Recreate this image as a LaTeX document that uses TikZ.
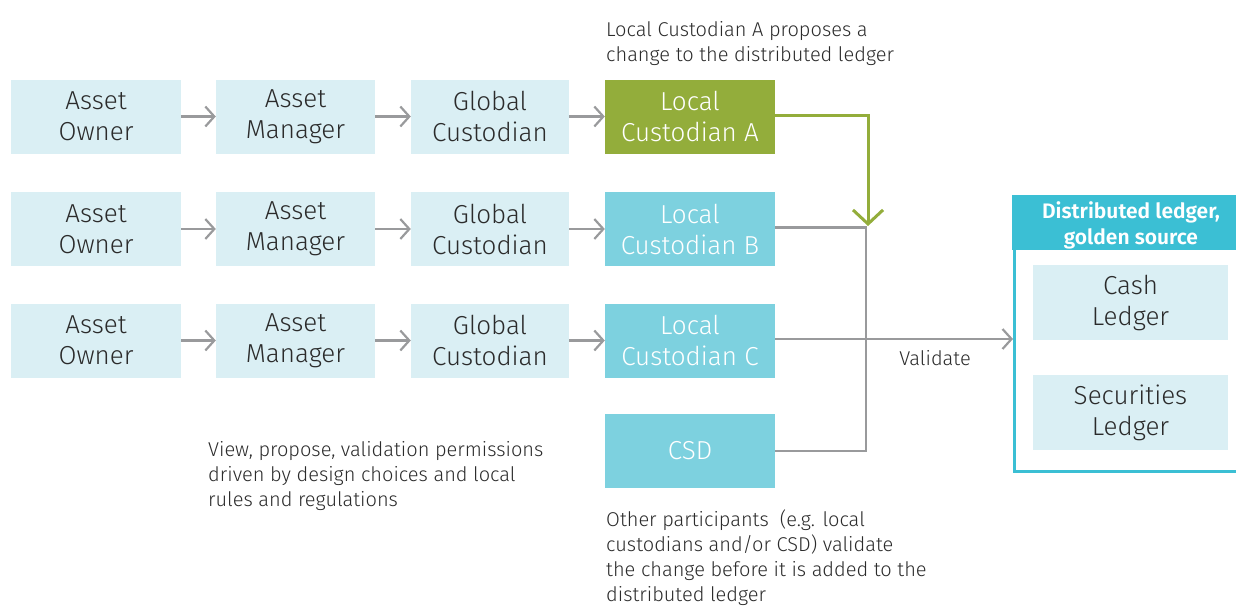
\documentclass[tikz,border=0pt]{standalone}
\usepackage{fontspec}
\setmainfont{Fira Sans Light}[BoldFont={Fira Sans SemiBold}]
\usetikzlibrary{arrows.meta}
\definecolor{lightbox}{HTML}{DAEFF4}
\definecolor{cyanbox}{HTML}{7DD1DF}
\definecolor{greenbox}{HTML}{93AD3B}
\definecolor{hdr}{HTML}{3BBFD4}
\definecolor{lgray}{HTML}{999A9C}
\definecolor{txt}{HTML}{2B2B2B}
\begin{document}
\begin{tikzpicture}[x=1pt,y=-1pt,
  box/.style={minimum width=170pt,minimum height=74pt,inner sep=0pt,align=center,
    font=\fontsize{26}{31}\selectfont,text=txt,fill=lightbox},
  cbox/.style={box,fill=cyanbox,text=white},
  gbox/.style={box,fill=greenbox,text=white},
  lbox/.style={box,minimum width=195pt,minimum height=75pt},
  conn/.style={draw=lgray,line width=2.2pt,-{Straight Barb[length=9pt,width=20pt,line width=2.2pt]}},
  plain/.style={draw=lgray,line width=2.2pt},
  note/.style={align=left,anchor=north west,inner sep=0pt,text=txt,font=\fontsize{20}{25.3}\selectfont},
]
\useasboundingbox (0,0) rectangle (1236,606);
% rows
\foreach \r/\y in {1/116.5,2/229,3/340.5}{
  \node[box] (ao\r) at (96,\y) {Asset\\Owner};
  \node[box,minimum width=159pt] (am\r) at (295.5,\y) {Asset\\Manager};
  \node[box,minimum width=158pt] (gc\r) at (490,\y) {Global\\Custodian};
  \draw[conn] (ao\r) -- (am\r);
  \draw[conn] (am\r) -- (gc\r);
}
\node[gbox] (lca) at (690,116.5) {Local\\Custodian A};
\node[cbox] (lcb) at (690,229) {Local\\Custodian B};
\node[cbox] (lcc) at (690,340.5) {Local\\Custodian C};
\node[cbox] (csd) at (690,451) {CSD};
\draw[conn] (gc1) -- (lca);
\draw[conn] (gc2) -- (lcb);
\draw[conn] (gc3) -- (lcc);

% distributed ledger
\node[draw=hdr,line width=2.5pt,minimum width=230pt,minimum height=274pt,anchor=north west,inner sep=0pt] (dl) at (1013,196) {};
\node[fill=hdr,minimum width=230pt,minimum height=55pt,anchor=north west,inner sep=0pt] (hd) at (1012,195) {};
\node[text=white,align=center,font=\bfseries\fontsize{21}{26}\selectfont,inner sep=0pt] (hdt) at (1131,225) {Distributed ledger,\\golden source};
\node[lbox] (cash) at (1130.5,302.5) {Cash\\Ledger};
\node[lbox] (sec) at (1130.5,412.5) {Securities\\Ledger};

% connectors
\coordinate (j1) at (866,227.5);
\coordinate (j2) at (866,451);
\coordinate (g1) at (868,115);
\draw[plain] (lcb.east |- j1) -- (j1) -- (j2) -- (csd.east |- j2);
\draw[conn] (lcc.east |- 0,339) -- (dl.west |- 0,339);
\node[font=\fontsize{20}{24}\selectfont,text=txt,inner sep=0pt] (val) at (935,358) {Validate};
\draw[draw=greenbox,line width=3pt,-{Straight Barb[length=14pt,width=30pt,line width=3pt]}]
  (lca.east |- g1) -- (g1) -- (868,226);

% notes
\node[note] (n1) at (606,21) {Local Custodian A proposes a\\change to the distributed ledger};
\node[note] (n2) at (208,441) {View, propose, validation permissions\\driven by design choices and local\\rules and regulations};
\node[note,font=\fontsize{20}{25}\selectfont] (n3) at (606,510) {Other participants\ \ (e.g. local\\custodians and/or CSD) validate\\the change before it is added to the\\distributed ledger};
\end{tikzpicture}
\end{document}
